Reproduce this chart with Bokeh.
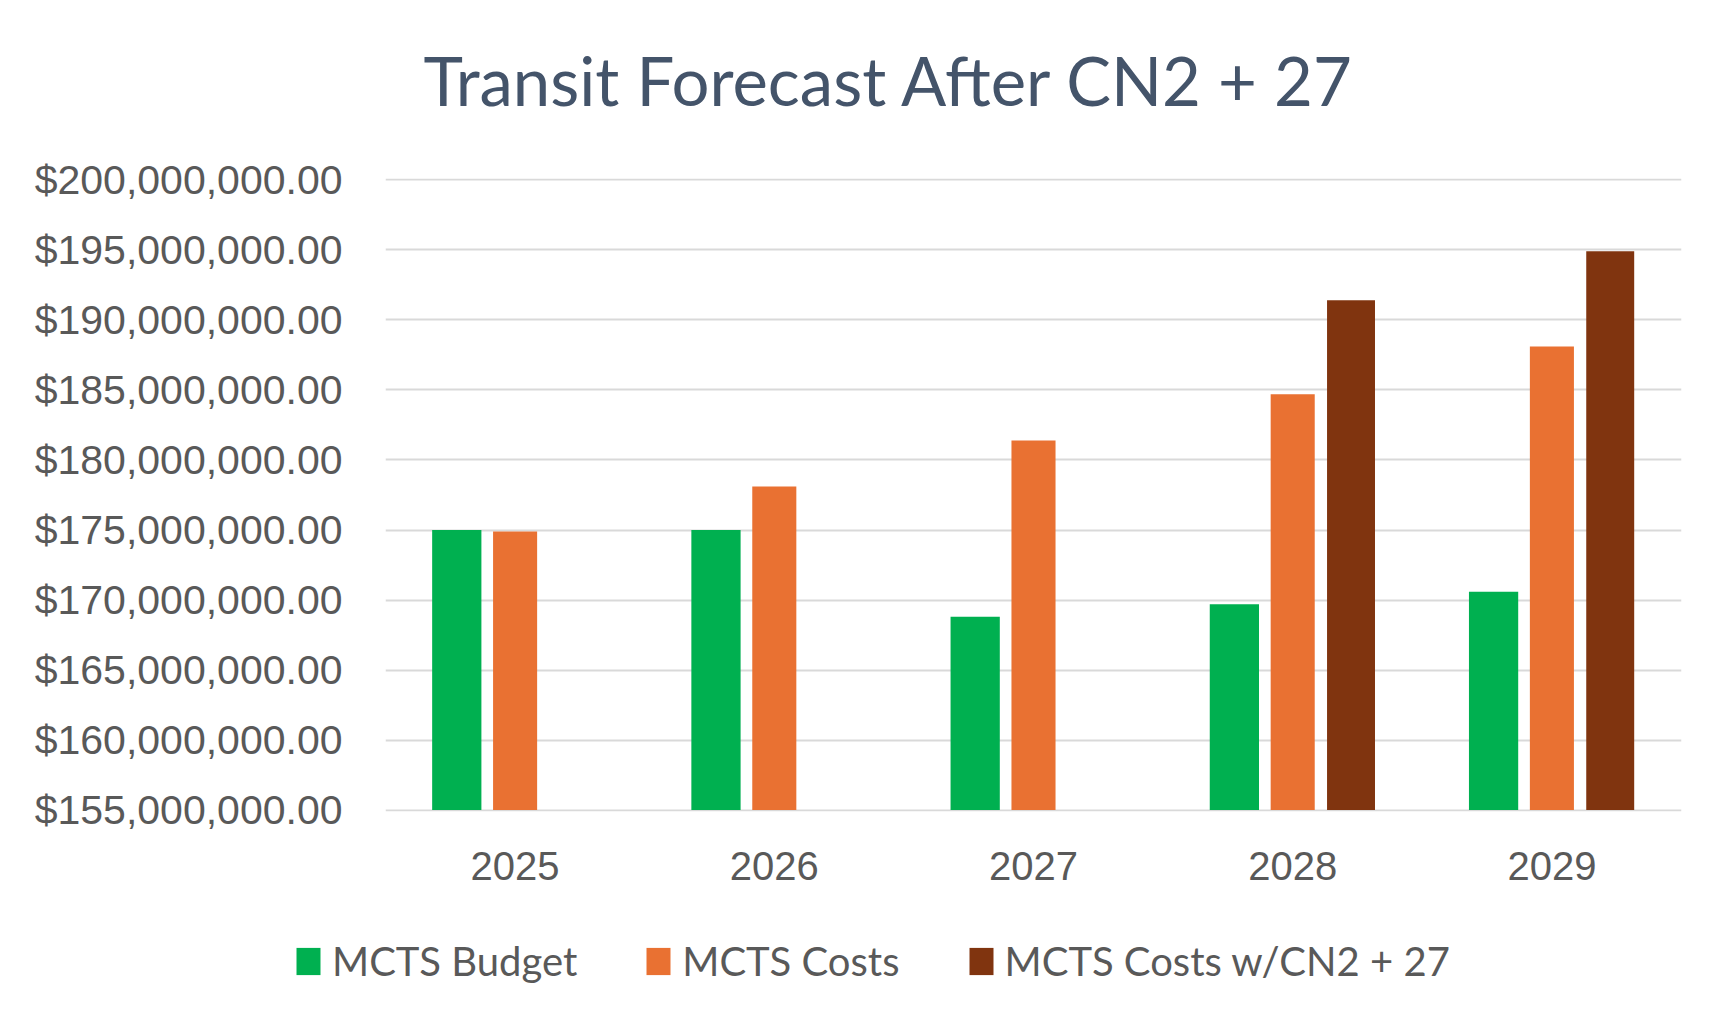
import math
from bokeh.plotting import figure
from bokeh.layouts import column
from bokeh.models import (ColumnDataSource, FactorRange, Range1d, FixedTicker,
                          NumeralTickFormatter, Legend, LegendItem, Title)
from bokeh.transform import dodge
from bokeh.embed import file_html
from bokeh.resources import INLINE

# ---- data ----
years = ["2025", "2026", "2027", "2028", "2029"]
mcts_budget = [175.0e6, 175.0e6, 168.8e6, 169.7e6, 170.6e6]
mcts_costs = [174.9e6, 178.1e6, 181.4e6, 184.7e6, 188.1e6]
mcts_costs_cn2 = [float("nan"), float("nan"), float("nan"), 191.4e6, 194.9e6]
y_ticks = [155e6, 160e6, 165e6, 170e6, 175e6, 180e6, 185e6, 190e6, 195e6, 200e6]
series_names = ["MCTS Budget", "MCTS Costs", "MCTS Costs w/CN2 + 27"]
series_colors = ["#00B050", "#E97132", "#80340F"]
title_text = "Transit Forecast After CN2 + 27"

src = ColumnDataSource(dict(year=years, budget=mcts_budget, costs=mcts_costs,
                            cn2=mcts_costs_cn2))

W, H = 1733, 1031
H1 = 911                                # main chart height; legend strip below
FL, FR, FT, FB = 385, 1681, 178, 811    # frame edges on the page
p = figure(x_range=FactorRange(factors=years), y_range=Range1d(154.9e6, 200.1e6),
           width=W, height=H1, output_backend="svg", toolbar_location=None,
           min_border_left=FL, min_border_right=W - FR, min_border_top=FT,
           min_border_bottom=H1 - FB)
p.frame_align = False
p.outline_line_color = None
p.background_fill_color = "white"
p.border_fill_color = "white"

BASE = 155e6
r1 = p.vbar(x=dodge("year", -0.225, range=p.x_range), top="budget", bottom=BASE,
            width=0.19, source=src, fill_color=series_colors[0], line_color=None)
r2 = p.vbar(x=dodge("year", 0.0, range=p.x_range), top="costs", bottom=BASE,
            width=0.17, source=src, fill_color=series_colors[1], line_color=None)
r3 = p.vbar(x=dodge("year", 0.225, range=p.x_range), top="cn2", bottom=BASE,
            width=0.185, source=src, fill_color=series_colors[2], line_color=None)

# axes
p.yaxis.ticker = FixedTicker(ticks=y_ticks)
p.yaxis.formatter = NumeralTickFormatter(format="$0,0.00")
for ax in (p.xaxis[0], p.yaxis[0]):
    ax.axis_line_color = None
    ax.major_tick_line_color = None
    ax.minor_tick_line_color = None
    ax.major_tick_out = 0
    ax.major_tick_in = 0
    ax.major_label_text_font = "Liberation Sans"
    ax.major_label_text_color = "#595959"
p.yaxis.major_label_text_font_size = "41px"
p.xaxis.major_label_text_font_size = "40px"
p.yaxis.major_label_standoff = 43
p.xaxis.major_label_standoff = 40

p.xgrid.grid_line_color = None
p.ygrid.grid_line_color = "#D9D9D9"
p.ygrid.grid_line_width = 2

# title (a blank spacer title sits between the real title and the frame)
p.add_layout(Title(text=" ", text_font_size="10px", standoff=46), "above")
p.add_layout(Title(text=title_text, align="left", offset=38, standoff=0,
                   text_font="Lato", text_font_size="67px", text_font_style="normal",
                   text_color="#44546A"), "above")

# legend strip (its own plot, so the legend may sit left of the chart frame)
H2 = H - H1
pl = figure(width=W, height=H2, x_range=Range1d(0, W), y_range=Range1d(0, H2),
            output_backend="svg", toolbar_location=None,
            min_border=0, x_axis_location=None, y_axis_location=None)
pl.frame_align = False
pl.outline_line_color = None
pl.grid.grid_line_color = None
pl.background_fill_color = "white"
pl.border_fill_color = "white"
# swatch renderers for the legend keys: one point each, far outside the visible range
swatch = ColumnDataSource(dict(x=[-1000.0], top=[-1000.0]))
lr = [pl.vbar(x="x", top="top", width=1, source=swatch, fill_color=c, line_color=None)
      for c in series_colors]
legend = Legend(items=[LegendItem(label=n, renderers=[r]) for n, r in zip(series_names, lr)],
                location=(293, 46), orientation="horizontal",
                glyph_width=30, glyph_height=34, label_standoff=9, spacing=66,
                padding=0, margin=0, border_line_color=None,
                background_fill_alpha=0,
                label_text_font="Lato", label_text_font_size="40px",
                label_text_color="#595959")
pl.add_layout(legend, "center")

open("out.html", "w").write(file_html(column(p, pl, spacing=0), INLINE))
